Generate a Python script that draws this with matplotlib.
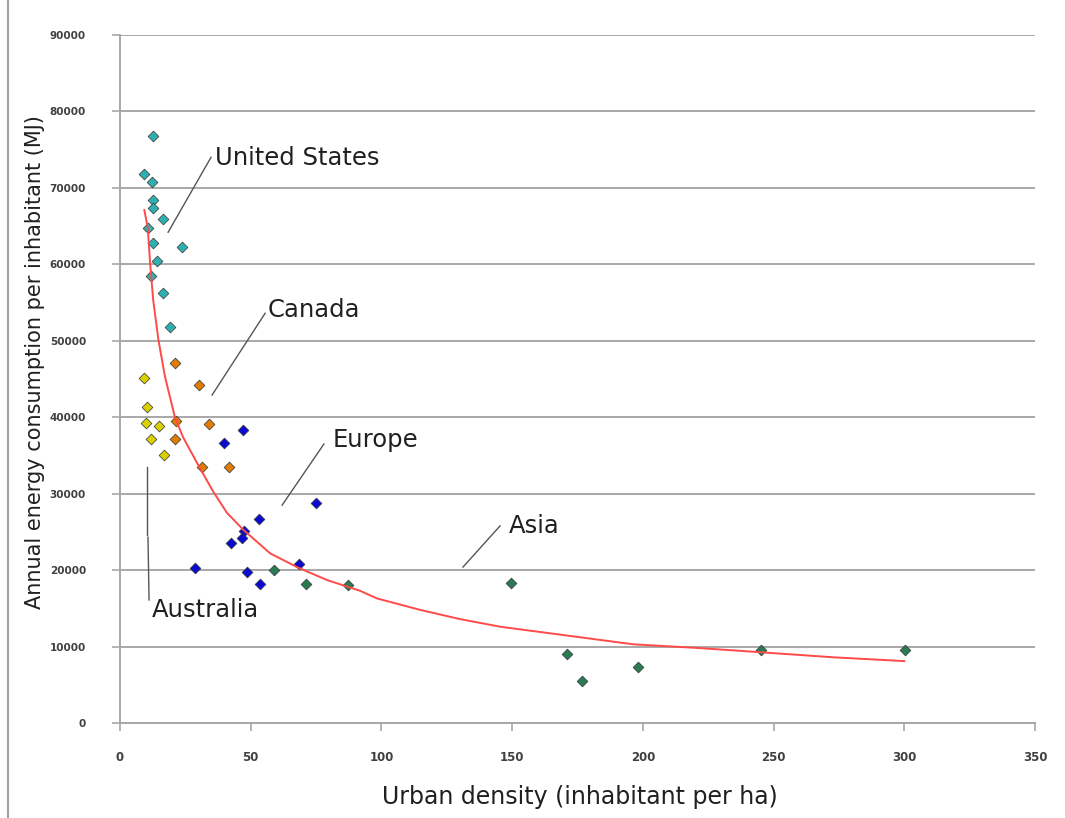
import matplotlib
matplotlib.use("Agg")
import matplotlib.pyplot as plt
from matplotlib.lines import Line2D

plt.rcParams['font.family'] = ['DejaVu Sans']

# urban density (inhabitant per ha) / annual energy per inhabitant (MJ), by region
us_x = [12.6, 9.2, 12.2, 12.6, 12.6, 16.4, 10.7, 12.6, 23.7, 14.2, 11.9, 16.4, 19.1]
us_y = [76800, 71800, 70800, 68400, 67400, 65900, 64800, 62800, 62300, 60400, 58500, 56300, 51800]

aus_x = [9.2, 10.3, 9.9, 14.9, 11.9, 16.8]
aus_y = [45100, 41300, 39200, 38900, 37200, 35100]

can_x = [21.0, 30.2, 21.4, 34.0, 21.0, 31.4, 41.7]
can_y = [47100, 44200, 39500, 39100, 37200, 33500, 33500]

eur_x = [47.1, 39.8, 75.0, 53.2, 47.4, 46.7, 42.5, 28.7, 48.6, 68.5, 53.6]
eur_y = [38300, 36600, 28800, 26700, 25100, 24200, 23500, 20300, 19800, 20800, 18200]

asia_x = [58.9, 71.2, 87.2, 149.6, 171.0, 176.7, 198.2, 245.2, 300.3]
asia_y = [20000, 18200, 18000, 18300, 9000, 5500, 7300, 9500, 9500]

# trend curve
trend_x = [9.3, 10.6, 11.5, 12.7, 14.7, 17.2, 21.0, 24.1, 29.5, 35.6, 40.9, 47.1, 57.4,
           67.7, 79.2, 91.8, 98.3, 114.8, 130.0, 145.4, 196.3, 221.9, 247.5, 272.8, 300.0]
trend_y = [67100, 64800, 60200, 55300, 50100, 45300, 40000, 37400, 34000, 30300, 27500, 25300, 22200,
           20400, 18700, 17300, 16300, 14800, 13600, 12600, 10300, 9800, 9200, 8600, 8100]

x_ticks = [0, 50, 100, 150, 200, 250, 300, 350]
y_ticks = [0, 10000, 20000, 30000, 40000, 50000, 60000, 70000, 80000, 90000]

fig = plt.figure(figsize=(10.65, 8.18), dpi=100)
ax = fig.add_axes([0.1127, 0.1161, 0.8591, 0.8411])

groups = [
    (us_x, us_y, '#2fb0b0'),
    (aus_x, aus_y, '#d8d000'),
    (can_x, can_y, '#e07c00'),
    (eur_x, eur_y, '#0a0ad0'),
    (asia_x, asia_y, '#2a7a52'),
]
for gx, gy, col in groups:
    ax.scatter(gx, gy, marker='D', s=30, c=col, edgecolors='#333333',
               linewidths=0.5, zorder=3)

ax.plot(trend_x, trend_y, color='#ff4a4a', lw=1.4, zorder=4)

ax.set_xlim(0, 350)
ax.set_ylim(0, 90000)
ax.set_xticks(x_ticks)
ax.set_yticks(y_ticks)
ax.yaxis.grid(True, color='#a8a8a8', lw=1.4)
ax.set_axisbelow(True)
for s in ['top', 'right']:
    ax.spines[s].set_visible(False)
for s in ['left', 'bottom']:
    ax.spines[s].set_color('#a8a8a8')
    ax.spines[s].set_linewidth(1.4)
ax.tick_params(axis='both', direction='out', length=6, width=1.2, color='#a8a8a8',
               labelcolor='#404040')
ax.tick_params(axis='x', pad=14, labelsize=8.5)
ax.tick_params(axis='y', pad=18.5, labelsize=7.5)
for lab in ax.get_xticklabels() + ax.get_yticklabels():
    lab.set_fontweight('bold')

ax.set_xlabel("Urban density (inhabitant per ha)", fontsize=17, color='#202020')
ax.set_ylabel("Annual energy consumption per inhabitant (MJ)", fontsize=15,
              color='#202020')
ax.xaxis.set_label_coords(0.503, -0.1076)
ax.yaxis.set_label_coords(-0.0925, 0.525)
ax.xaxis.label.set_va('center')
ax.yaxis.label.set_va('center')

# region labels with pointer lines
lbl = dict(fontsize=17.5, color='#202020', va='center', ha='left')
ax.plot([34.8, 18.4], [74000, 64200], color='#555555', lw=1)
ax.text(36.3, 73900, "United States", **lbl)
ax.plot([55.5, 35.2], [53600, 42900], color='#555555', lw=1)
ax.text(56.6, 54000, "Canada", **lbl)
ax.plot([78.0, 62.0], [36500, 28500], color='#555555', lw=1)
ax.text(81.5, 37000, "Europe", **lbl)
ax.plot([145.4, 131.2], [25800, 20400], color='#555555', lw=1)
ax.text(148.8, 25800, "Asia", **lbl)
ax.plot([10.3, 10.3], [33500, 24600], color='#555555', lw=1)
ax.plot([10.7, 11.1], [24300, 16100], color='#555555', lw=1)
ax.text(12.2, 14800, "Australia", **lbl)

# left page border
fig.add_artist(Line2D([8 / 1065, 8 / 1065], [0, 1], color='#a0a0a0', lw=1.5))

fig.savefig("out.png", dpi=100)
